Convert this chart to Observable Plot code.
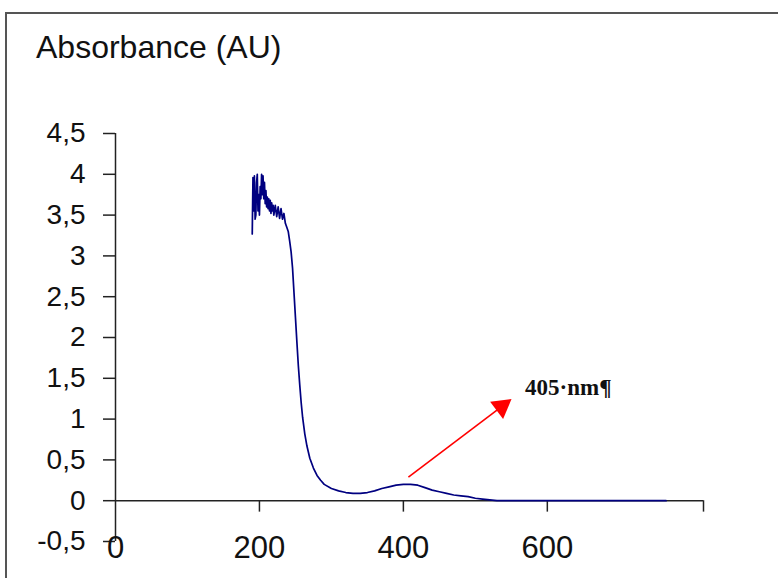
<!DOCTYPE html>
<html>
<head>
<meta charset="utf-8">
<script src="https://cdn.jsdelivr.net/npm/d3@7"></script>
<script src="https://cdn.jsdelivr.net/npm/@observablehq/plot@0.6"></script>
<style>
  html, body { margin: 0; padding: 0; background: #fff; }
  #wrap { position: relative; width: 778px; height: 578px; overflow: hidden; }
  #border { position: absolute; left: 5px; top: 12px; width: 800px; height: 600px; border: 2px solid #555; box-sizing: border-box; }
  #title { position: absolute; left: 36px; top: 29px; font-family: "Liberation Sans", Arial, sans-serif; font-size: 32px; line-height: 36px; color: #111; }
  #chart { position: absolute; left: 0; top: 0; }
</style>
</head>
<body>
<div id="wrap">
  <div id="border"></div>
  <div id="title">Absorbance (AU)</div>
  <div id="chart"></div>
</div>
<script>
const wavelength = [190,191,192,193,194,195,196,197,198,199,200,201,202,203,204,205,206,207,208,209,210,211,212,213,214,215,216,217,218,219,220,222,224,226,228,230,232,234,236,238,240,242,244,246,248,250,252,254,256,258,260,263,266,270,275,280,285,290,300,310,320,330,340,350,360,370,380,390,400,410,420,430,440,450,460,470,480,490,500,510,520,530,600,700,765];
const absorbance = [3.27,3.96,3.55,3.98,3.45,3.5,3.9,4.0,3.55,3.75,3.5,3.85,3.7,4.0,3.75,3.98,3.7,3.9,3.64,3.8,3.6,3.72,3.58,3.7,3.55,3.68,3.52,3.65,3.55,3.62,3.5,3.62,3.48,3.6,3.46,3.58,3.45,3.52,3.4,3.35,3.3,3.18,3.05,2.85,2.55,2.25,1.95,1.66,1.42,1.2,1.02,0.82,0.67,0.52,0.4,0.31,0.25,0.2,0.15,0.12,0.1,0.09,0.09,0.1,0.12,0.15,0.17,0.19,0.2,0.2,0.19,0.16,0.13,0.11,0.09,0.07,0.06,0.05,0.03,0.02,0.01,0,0,0,0];
const yTicks = [-0.5,0,0.5,1,1.5,2,2.5,3,3.5,4,4.5];
const xTickLabels = [0,200,400,600];
const xTickMarks = [200,400,600,817];
const xMax = 817;
const annotationText = "405·nm¶";
const arrowFrom = {x: 407, y: 0.29};
const arrowTo = {x: 542, y: 1.19};
const labelPos = {x: 569, y: 1.29};

const data = wavelength.map((w, i) => ({wl: w, abs: absorbance[i]}));
const comma = d => String(d).replace(".", ",");

const chart = Plot.plot({
  width: 778,
  height: 578,
  marginLeft: 115,
  marginRight: 75,
  marginTop: 133,
  marginBottom: 37,
  style: {fontFamily: "'Liberation Sans', Arial, sans-serif", fontSize: "28px", color: "#111", background: "transparent"},
  x: {domain: [0, xMax], axis: null},
  y: {domain: [-0.5, 4.5], axis: null},
  marks: [
    // y axis
    Plot.ruleX([0], {y1: -0.5, y2: 4.5, stroke: "#222", strokeWidth: 1.5}),
    Plot.axisY({ticks: yTicks, tickSize: 12, tickPadding: 18, tickFormat: comma, fontSize: 28, stroke: "#222", strokeWidth: 1.5, label: null}),
    // x axis at y = 0
    Plot.ruleY([0], {x1: 0, x2: xMax, stroke: "#222", strokeWidth: 1.5}),
    Plot.ruleX(xTickMarks, {y1: 0, y2: -0.14, stroke: "#222", strokeWidth: 1.5}),
    Plot.text(xTickLabels, {x: d => d, y: -0.5, dy: 7, text: d => String(d), lineAnchor: "middle", fontSize: 31, fill: "#111"}),
    // spectrum
    Plot.line(data, {x: "wl", y: "abs", stroke: "#000080", strokeWidth: 1.7}),
    // annotation arrow
    Plot.link([{}], {x1: arrowFrom.x, y1: arrowFrom.y, x2: arrowTo.x, y2: arrowTo.y, stroke: "#ff0000", strokeWidth: 1.6}),
    Plot.dot([{}], {x: arrowTo.x, y: arrowTo.y, symbol: "triangle", r: 8, rotate: 53, fill: "#ff0000", stroke: "none", dx: -4, dy: 3}),
    Plot.text([{}], {x: labelPos.x, y: labelPos.y, text: () => annotationText, textAnchor: "start", lineAnchor: "bottom", fontFamily: "'Liberation Serif', 'Times New Roman', serif", fontWeight: "bold", fontSize: 23, fill: "#111"})
  ]
});
document.getElementById("chart").appendChild(chart);
</script>
</body>
</html>
